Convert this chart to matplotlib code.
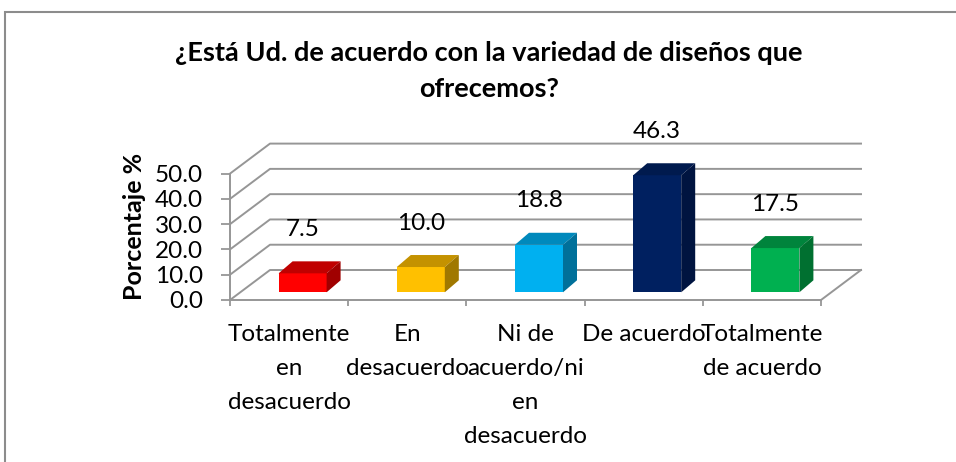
import numpy as np
import matplotlib
matplotlib.use('Agg')
from matplotlib import pyplot as plt
from matplotlib.patches import Rectangle

# data
categories = ['Totalmente\nen\ndesacuerdo', 'En\ndesacuerdo',
              'Ni de\nacuerdo/ni\nen\ndesacuerdo', 'De acuerdo',
              'Totalmente\nde acuerdo']
values = [7.5, 10.0, 18.8, 46.3, 17.5]
yticks = [0, 10, 20, 30, 40, 50]
front_colors = ['#FF0000', '#FFC000', '#00B0F0', '#002060', '#00B050']
top_colors = ['#C00000', '#C49200', '#0089BC', '#001A4E', '#00843C']
side_colors = ['#A00000', '#A07800', '#00709A', '#001440', '#007030']
title = '¿Está Ud. de acuerdo con la variedad de diseños que\nofrecemos?'
ylabel = 'Porcentaje %'

plt.rcParams['font.family'] = ['Lato', 'DejaVu Sans']

W, H = 956, 462
fig = plt.figure(figsize=(W / 100, H / 100), dpi=100)

# front plane of the pseudo 3d plot, in pixels
x0, x1 = 230, 821
y0, y1 = 300, 173.6
ax = fig.add_axes([x0 / W, 1 - y0 / H, (x1 - x0) / W, (y0 - y1) / H])
ax.set_xlim(0, len(values))
ax.set_ylim(0, 50)
ax.patch.set_alpha(0)

sx = len(values) / (x1 - x0)   # data units per pixel
sy = 50 / (y0 - y1)
dep_x, dep_y = 40 * sx, 30 * sy      # depth of the floor / walls
off_x, off_y = 13.5 * sx, 7.7 * sy   # bar front face offset
side_x, side_y = 14 * sx, 12 * sy    # bar depth
bw = 48 * sx

grid = '#969696'
fs = 17.5
n = len(values)

# back wall + left wall lines
for v in yticks:
    ax.plot([0, dep_x, n + dep_x], [v, v + dep_y, v + dep_y], color=grid,
            lw=1.4, clip_on=False, zorder=1)
ax.plot([n, n + dep_x], [0, dep_y], color=grid, lw=1.4, clip_on=False, zorder=1)

# bars
for i, v in enumerate(values):
    l = i + 0.5 - bw / 2 + off_x
    r = l + bw
    b = off_y
    t = off_y + v
    ax.fill([l, r, r, l], [b, b, t, t], color=front_colors[i], lw=0, zorder=3, clip_on=False)
    ax.fill([l, r, r + side_x, l + side_x], [t, t, t + side_y, t + side_y],
            color=top_colors[i], lw=0, zorder=3, clip_on=False)
    ax.fill([r, r + side_x, r + side_x, r], [b, b + side_y, t + side_y, t],
            color=side_colors[i], lw=0, zorder=3, clip_on=False)
    ax.text(i + 0.5 + off_x, t + 44 * sy, f'{v:.1f}', ha='center', va='center',
            fontsize=fs, color='black', zorder=5, clip_on=False)

# axes
for s in ['top', 'right']:
    ax.spines[s].set_visible(False)
for s in ['left', 'bottom']:
    ax.spines[s].set_color(grid)
    ax.spines[s].set_linewidth(1.4)

ax.set_yticks(yticks)
ax.set_yticklabels([f'{v:.1f}' for v in yticks])
ax.tick_params(axis='y', length=6.5, width=1.3, color=grid, pad=13, labelsize=fs)

ax.set_xticks(np.arange(n + 1))
ax.set_xticklabels([])
ax.tick_params(axis='x', which='major', length=4.5, width=1.3, color=grid)
ax.set_xticks(np.arange(n) + 0.5, minor=True)
ax.set_xticklabels(categories, minor=True, fontsize=fs, linespacing=1.78)
ax.tick_params(axis='x', which='minor', length=0, pad=17)

fig.text(135 / W, 1 - 226 / H, ylabel, rotation=90, ha='center', va='center',
         fontsize=18, fontweight='bold')
fig.text(489 / W, 1 - 71 / H, title, ha='center', va='center', fontsize=19.5,
         fontweight='bold', linespacing=1.6)

# chart border
fig.patches.append(Rectangle((5 / W, -0.1), 2, 1 - 12 / H + 0.1, transform=fig.transFigure,
                             fill=False, edgecolor='#8C8C8C', lw=1.5))

fig.savefig('out.png', dpi=100)
